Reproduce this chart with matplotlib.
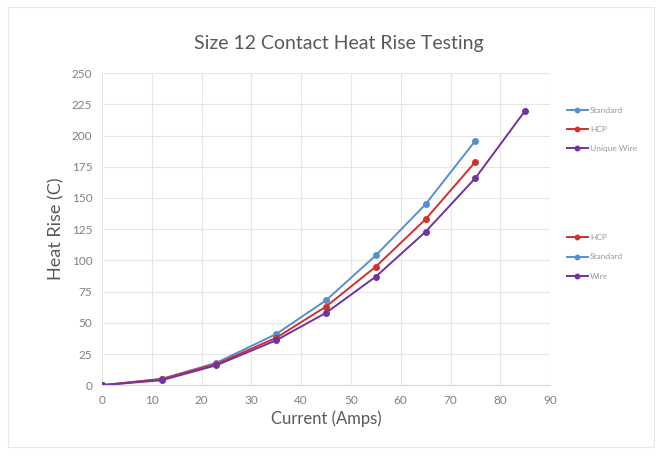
import matplotlib
matplotlib.use("Agg")
import matplotlib.pyplot as plt
from matplotlib.patches import Rectangle

# data
current = [0, 12, 23, 35, 45, 55, 65, 75]
current_wire = [0, 12, 23, 35, 45, 55, 65, 75, 85]
standard = [0, 5, 18, 41, 68, 104, 145, 196]
hcp = [0, 5, 17, 38, 63, 95, 133, 179]
wire = [0, 4, 16, 36, 58, 87, 123, 166, 220]

x_ticks = list(range(0, 91, 10))
y_ticks = list(range(0, 251, 25))

blue = "#5690d0"
red = "#d0312d"
purple = "#7034a0"
grey = "#808080"

plt.rcParams['font.family'] = ['Lato', 'DejaVu Sans']

fig = plt.figure(figsize=(6.62, 4.63), dpi=100)
ax = fig.add_axes([0.154, 0.168, 0.677, 0.674])

# chart border
fig.patches.append(Rectangle((0.012, 0.035), 0.976, 0.95, transform=fig.transFigure,
                             fill=False, edgecolor="#e8e8e8", linewidth=0.8))

l_std, = ax.plot(current, standard, color=blue, marker="o", markersize=4, linewidth=1.4)
l_hcp, = ax.plot(current, hcp, color=red, marker="o", markersize=4, linewidth=1.4)
l_wire, = ax.plot(current_wire, wire, color=purple, marker="o", markersize=4, linewidth=1.4)

ax.set_xlim(0, 90)
ax.set_ylim(0, 250)
ax.set_xticks(x_ticks)
ax.set_yticks(y_ticks)
ax.grid(True, color="#e6e6e6", linewidth=0.8)
ax.set_axisbelow(True)
for s in ["top", "right", "left"]:
    ax.spines[s].set_visible(False)
ax.spines["bottom"].set_color("#d9d9d9")
ax.tick_params(length=0, labelsize=8.5, labelcolor=grey, pad=7)

ax.set_xlabel("Current (Amps)", fontsize=12, color="#595959", labelpad=3)
ax.set_ylabel("Heat Rise (C)", fontsize=13, color="#595959", labelpad=5)
fig.text(0.512, 0.905, "Size 12 Contact Heat Rise Testing", ha="center", va="center",
         fontsize=14, color="#595959")

leg1 = fig.legend([l_std, l_hcp, l_wire], ["Standard", "HCP", "Unique Wire"],
                  loc="center left", bbox_to_anchor=(0.845, 0.721), frameon=False,
                  fontsize=6, labelcolor="#999999", handlelength=2.5, labelspacing=1.45,
                  handletextpad=0.3, markerscale=0.8)
leg2 = fig.legend([l_hcp, l_std, l_wire], ["HCP", "Standard", "Wire"],
                  loc="center left", bbox_to_anchor=(0.845, 0.445), frameon=False,
                  fontsize=6, labelcolor="#999999", handlelength=2.5, labelspacing=1.45,
                  handletextpad=0.3, markerscale=0.8)

fig.savefig("out.png", dpi=100)
